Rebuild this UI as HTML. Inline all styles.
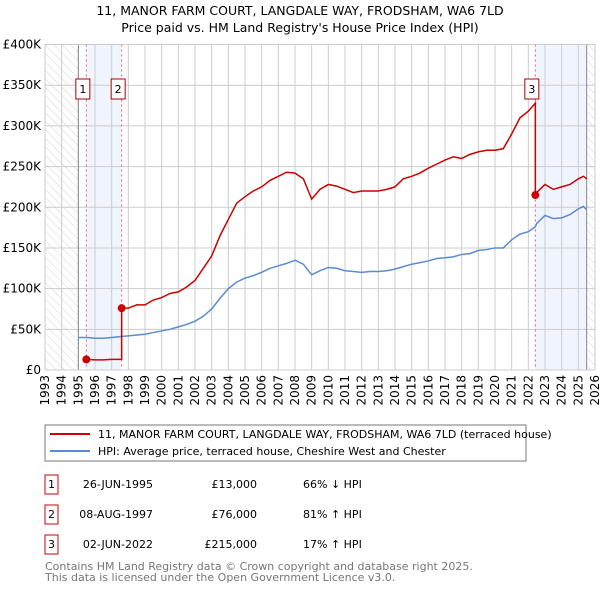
<!DOCTYPE html>
<html><head><meta charset="utf-8"><style>
body{margin:0;background:#fff;width:600px;height:590px;overflow:hidden;font-family:"DejaVu Sans","Liberation Sans",sans-serif}
svg text{font-family:"DejaVu Sans","Liberation Sans",sans-serif}
</style></head><body>
<svg id="c" width="600" height="590" xmlns="http://www.w3.org/2000/svg">
<defs><pattern id="hatch" width="6" height="6" patternUnits="userSpaceOnUse" patternTransform="rotate(-45)"><rect width="6" height="6" fill="#fff"/><line x1="0" y1="0" x2="0" y2="6" stroke="#d4d4d4" stroke-width="1"/></pattern></defs>
<text x="300" y="15" text-anchor="middle" font-size="12.5">11, MANOR FARM COURT, LANGDALE WAY, FRODSHAM, WA6 7LD</text>
<text x="300" y="32" text-anchor="middle" font-size="12.5">Price paid vs. HM Land Registry's House Price Index (HPI)</text>
<g id="plot"></g>
<rect x="45" y="425" width="481" height="36" fill="#fff" stroke="#777"/>
<line x1="50" y1="434" x2="90" y2="434" stroke="#cc0000" stroke-width="2"/>
<text x="98" y="438" font-size="11">11, MANOR FARM COURT, LANGDALE WAY, FRODSHAM, WA6 7LD (terraced house)</text>
<line x1="50" y1="451" x2="90" y2="451" stroke="#5b8bd0" stroke-width="2"/>
<text x="98" y="455" font-size="11">HPI: Average price, terraced house, Cheshire West and Chester</text>
<g font-size="11">
<rect x="45" y="475" width="13" height="19" fill="#fff" stroke="#cc0000"/><text x="51.5" y="488" text-anchor="middle">1</text>
<text x="153" y="488" text-anchor="end">26-JUN-1995</text>
<text x="257" y="488" text-anchor="end">£13,000</text>
<text x="303" y="488">66% ↓ HPI</text>
<rect x="45" y="505" width="13" height="19" fill="#fff" stroke="#cc0000"/><text x="51.5" y="518" text-anchor="middle">2</text>
<text x="153" y="518" text-anchor="end">08-AUG-1997</text>
<text x="257" y="518" text-anchor="end">£76,000</text>
<text x="303" y="518">81% ↑ HPI</text>
<rect x="45" y="535" width="13" height="19" fill="#fff" stroke="#cc0000"/><text x="51.5" y="548" text-anchor="middle">3</text>
<text x="153" y="548" text-anchor="end">02-JUN-2022</text>
<text x="257" y="548" text-anchor="end">£215,000</text>
<text x="303" y="548">17% ↑ HPI</text>
</g>
<text x="45" y="570" font-size="11" fill="#777">Contains HM Land Registry data © Crown copyright and database right 2025.</text>
<text x="45" y="581" font-size="11" fill="#777">This data is licensed under the Open Government Licence v3.0.</text>
</svg>
<script>
const hpiYears=[1995,1995.5,1996,1996.5,1997,1997.5,1998,1998.5,1999,1999.5,2000,2000.5,2001,2001.5,2002,2002.5,2003,2003.5,2004,2004.5,2005,2005.5,2006,2006.5,2007,2007.5,2008,2008.5,2009,2009.5,2010,2010.5,2011,2011.5,2012,2012.5,2013,2013.5,2014,2014.5,2015,2015.5,2016,2016.5,2017,2017.5,2018,2018.5,2019,2019.5,2020,2020.5,2021,2021.5,2022,2022.42,2022.5,2023,2023.5,2024,2024.5,2025,2025.3,2025.5];
const hpiValues=[40,40,39,39,40,41,42,43,44,46,48,50,53,56,60,66,75,88,100,108,113,116,120,125,128,131,135,130,117,122,126,125,122,121,120,121,121,122,124,127,130,132,134,137,138,139,142,143,147,148,150,150,160,167,170,176,180,190,186,187,191,198,201,197];
const propYears=[1995.48,1995.5,1996,1996.5,1997,1997.5,1997.6,1997.6,1998,1998.5,1999,1999.5,2000,2000.5,2001,2001.5,2002,2002.5,2003,2003.5,2004,2004.5,2005,2005.5,2006,2006.5,2007,2007.5,2008,2008.5,2009,2009.5,2010,2010.5,2011,2011.5,2012,2012.5,2013,2013.5,2014,2014.5,2015,2015.5,2016,2016.5,2017,2017.5,2018,2018.5,2019,2019.5,2020,2020.5,2021,2021.5,2022,2022.42,2022.42,2022.5,2023,2023.5,2024,2024.5,2025,2025.3,2025.5];
const propValues=[13,13,12.5,12.5,13,13,13,76,76,80,80,86,89,94,96,102,110,125,140,165,185,205,213,220,225,233,238,243,242,235,210,222,228,226,222,218,220,220,220,222,225,235,238,242,248,253,258,262,260,265,268,270,270,272,290,310,318,328,215,218,228,222,225,228,235,238,235];
const saleYears=[1995.48,1997.6,2022.42];
const saleValues=[13,76,215];
const saleLabels=["1","2","3"];
const yTicks=[0,50,100,150,200,250,300,350,400];
const xTicks=[1993,1994,1995,1996,1997,1998,1999,2000,2001,2002,2003,2004,2005,2006,2007,2008,2009,2010,2011,2012,2013,2014,2015,2016,2017,2018,2019,2020,2021,2022,2023,2024,2025,2026];
const X0=45,X1=595,Y0=370,Y1=44.5;
const xs=t=>X0+(t-1993)/(2026-1993)*(X1-X0);
const ys=v=>Y0-v/400*(Y0-Y1);
const g=document.getElementById('plot');
const NS='http://www.w3.org/2000/svg';
function mk(tag,attrs,parent){const e=document.createElementNS(NS,tag);for(const k in attrs)e.setAttribute(k,attrs[k]);(parent||g).appendChild(e);return e;}
let e;
e=mk('rect',{x:X0,y:Y1,width:X1-X0,height:Y0-Y1,fill:'#fff'});


e=mk('rect',{x:X0,y:Y1,width:xs(1995)-X0,height:Y0-Y1,fill:'url(#hatch)'});


const dataEnd=hpiYears[hpiYears.length-1];
e=mk('rect',{x:xs(dataEnd),y:Y1,width:X1-xs(dataEnd),height:Y0-Y1,fill:'url(#hatch)'});


e=mk('rect',{x:xs(saleYears[0]),y:Y1,width:xs(saleYears[1])-xs(saleYears[0]),height:Y0-Y1,fill:'#f0f4fd'});


e=mk('rect',{x:xs(saleYears[2]),y:Y1,width:xs(dataEnd)-xs(saleYears[2]),height:Y0-Y1,fill:'#f0f4fd'});


yTicks.forEach(v=>{
  e=mk('line',{x1:X0,x2:X1,y1:ys(v),y2:ys(v),stroke:'#ccc'});
  
  
  e=mk('text',{x:X0-4,y:ys(v)+4,'text-anchor':'end','font-size':'12'});
  e.textContent=v===0?'£0':'£'+v+'K';
  
  
});
xTicks.forEach(t=>{
  e=mk('line',{x1:xs(t),x2:xs(t),y1:Y1,y2:Y0,stroke:'#ccc'});
  
  
  e=mk('text',{transform:`translate(${xs(t)+4},${Y0+5}) rotate(-90)`,'text-anchor':'end','font-size':'12'});
  e.textContent=t;
  
  
});
e=mk('line',{x1:xs(1995),x2:xs(1995),y1:Y1,y2:Y0,stroke:'#888'});


e=mk('line',{x1:xs(dataEnd),x2:xs(dataEnd),y1:Y1,y2:Y0,stroke:'#888'});


saleYears.forEach((t,i)=>{
  e=mk('line',{x1:xs(t),x2:xs(t),y1:Y1,y2:Y0,stroke:'#e06060','stroke-dasharray':'2,3'});
  
  
});
e=mk('polyline',{points:hpiYears.map((t,i)=>xs(t)+','+ys(hpiValues[i])).join(' '),fill:'none',stroke:'#5b8bd0','stroke-width':1.5});


e=mk('polyline',{points:propYears.map((t,i)=>xs(t)+','+ys(propValues[i])).join(' '),fill:'none',stroke:'#cc0000','stroke-width':1.5});


saleYears.forEach((t,i)=>{
  e=mk('circle',{cx:xs(t),cy:ys(saleValues[i]),r:4,fill:'#cc0000'});
  
  
  const cx=xs(t)-3.5;
  e=mk('rect',{x:cx-7,y:79,width:14,height:20,fill:'#fff',stroke:'#aa0000'});
  
  
  e=mk('text',{x:cx,y:93,'text-anchor':'middle','font-size':'11'});
  e.textContent=saleLabels[i];
  
  
});
e=mk('rect',{x:X0,y:Y1,width:X1-X0,height:Y0-Y1,fill:'none',stroke:'#ccc'});


</script>
</body></html>
